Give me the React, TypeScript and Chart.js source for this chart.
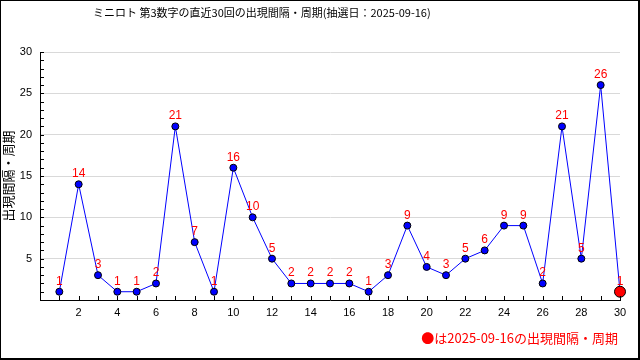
import React, { useEffect, useRef } from "react";
import { Chart, registerables } from "chart.js";

Chart.register(...registerables);

const TITLE = "ミニロト 第3数字の直近30回の出現間隔・周期(抽選日：2025-09-16)";
const Y_TITLE = "出現間隔・周期";
const NOTE = "●は2025-09-16の出現間隔・周期";
const drawNumbers = [1, 2, 3, 4, 5, 6, 7, 8, 9, 10, 11, 12, 13, 14, 15, 16, 17, 18, 19, 20, 21, 22, 23, 24, 25, 26, 27, 28, 29, 30];
const intervals = [1, 14, 3, 1, 1, 2, 21, 7, 1, 16, 10, 5, 2, 2, 2, 2, 1, 3, 9, 4, 3, 5, 6, 9, 9, 2, 21, 5, 26, 1];
const X_MIN = 0;
const X_MAX = 30;
const Y_MIN = 0;
const Y_MAX = 30;

const JP = '"Noto Sans CJK JP", "DejaVu Sans", sans-serif';
const NUM = '"Liberation Sans", "DejaVu Sans", sans-serif';

export default function App() {
  const ref = useRef<HTMLCanvasElement | null>(null);

  useEffect(() => {
    document.body.style.margin = "0";
    const canvas = ref.current;
    if (!canvas) return;
    const last = intervals.length - 1;

    const extras = {
      id: "extras",
      afterDraw(chart: any) {
        const ctx = chart.ctx;
        const xs = chart.scales.x;
        const ys = chart.scales.y;
        const area = chart.chartArea;
        ctx.save();
        // inward minor ticks
        ctx.strokeStyle = "#000";
        ctx.lineWidth = 1;
        ctx.beginPath();
        for (let v = Y_MIN; v <= Y_MAX; v++) {
          const py = Math.round(ys.getPixelForValue(v)) + 0.5;
          ctx.moveTo(area.left, py);
          ctx.lineTo(area.left + 4, py);
        }
        for (let v = X_MIN + 1; v <= X_MAX; v++) {
          const px = Math.round(xs.getPixelForValue(v)) + 0.5;
          ctx.moveTo(px, area.bottom);
          ctx.lineTo(px, area.bottom - 4);
        }
        ctx.stroke();
        ctx.restore();
      },
      afterDatasetsDraw(chart: any) {
        const ctx = chart.ctx;
        const meta = chart.getDatasetMeta(0);
        ctx.save();
        ctx.fillStyle = "#ff0000";
        ctx.font = `12px ${NUM}`;
        ctx.textAlign = "center";
        ctx.textBaseline = "alphabetic";
        meta.data.forEach((pt: any, i: number) => {
          ctx.fillText(String(intervals[i]), pt.x, pt.y - 7);
        });
        // title
        ctx.fillStyle = "#000";
        ctx.font = `11px ${JP}`;
        ctx.textAlign = "left";
        ctx.textBaseline = "middle";
        ctx.fillText(TITLE, 93, 13);
        // note
        ctx.fillStyle = "#ff0000";
        ctx.font = `13px ${JP}`;
        ctx.textAlign = "right";
        ctx.fillText(NOTE, 618, 338);
        ctx.restore();
      },
    };

    const chart = new Chart(canvas, {
      type: "line",
      data: {
        datasets: [
          {
            data: drawNumbers.map((n, i) => ({ x: n, y: intervals[i] })),
            borderColor: "#0000ff",
            borderWidth: 1,
            pointBackgroundColor: intervals.map((_, i) => (i === last ? "#ff0000" : "#0000ff")),
            pointBorderColor: "#000",
            pointBorderWidth: 1,
            pointRadius: intervals.map((_, i) => (i === last ? 5.5 : 3.5)),
            tension: 0,
            clip: false as any,
          },
        ],
      },
      plugins: [extras],
      options: {
        animation: false,
        responsive: false,
        events: [],
        layout: { padding: { left: 0, right: 20, top: 52, bottom: 40 } },
        plugins: {
          legend: { display: false },
          title: { display: false },
          tooltip: { enabled: false },
        },
        scales: {
          x: {
            type: "linear",
            min: X_MIN,
            max: X_MAX,
            afterFit: (s: any) => {
              s.height = 20;
            },
            ticks: {
              stepSize: 2,
              autoSkip: false,
              maxRotation: 0,
              padding: 6,
              color: "#000",
              font: { size: 11, family: NUM },
              callback: (v: any) => (v === 0 ? "" : String(v)),
            },
            grid: { display: true, drawOnChartArea: false, drawTicks: false },
            border: { display: true, color: "#000", width: 1 },
          },
          y: {
            type: "linear",
            min: Y_MIN,
            max: Y_MAX,
            afterFit: (s: any) => {
              s.width = 40;
            },
            ticks: {
              stepSize: 5,
              autoSkip: false,
              padding: 8,
              color: "#000",
              font: { size: 11, family: NUM },
              callback: (v: any) => (v === 0 ? "" : String(v)),
            },
            grid: {
              drawTicks: false,
              color: (c: any) => (c.tick && c.tick.value === 0 ? "rgba(0,0,0,0)" : "#d9d9d9"),
              lineWidth: 1,
            },
            border: { display: true, color: "#000", width: 1 },
            title: {
              display: true,
              text: Y_TITLE,
              color: "#000",
              padding: 0,
              font: { size: 13, family: JP },
            },
          },
        },
      },
    });
    return () => chart.destroy();
  }, []);

  return (
    <div style={{ position: "relative", width: 640, height: 360 }}>
      <canvas ref={ref} width={640} height={360} style={{ display: "block" }} />
      <div
        style={{
          position: "absolute",
          left: 0,
          top: 0,
          width: 640,
          height: 360,
          boxSizing: "border-box",
          borderStyle: "solid",
          borderColor: "#000",
          borderWidth: "1px 2px 2px 1px",
          pointerEvents: "none",
        }}
      />
    </div>
  );
}
